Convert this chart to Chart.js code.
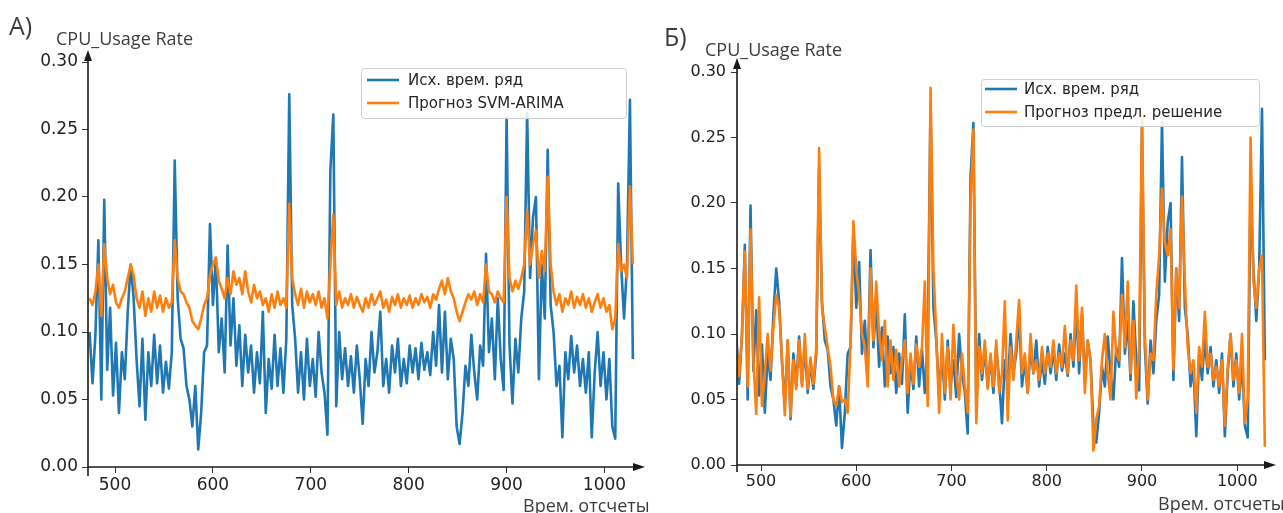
<!DOCTYPE html>
<html>
<head>
<meta charset="utf-8">
<script src="https://cdn.jsdelivr.net/npm/chart.js@4.4.1/dist/chart.umd.min.js"></script>
<style>
  body { margin: 0; background: #fff; }
  #wrap { position: relative; width: 1283px; height: 513px; overflow: hidden; }
  canvas { position: absolute; top: 0; }
  #chartA { left: 0; }
  #chartB { left: 650px; }
</style>
</head>
<body>
<div id="wrap">
  <canvas id="chartA" width="650" height="513"></canvas>
  <canvas id="chartB" width="633" height="513"></canvas>
</div>
<script>
// sample times: every 3rd sample starting at 474
const tStart = 474;
const tStep = 3;

// original series (blue), same in both panels
const actual = [
  0.100, 0.062, 0.098, 0.168, 0.050, 0.198, 0.072, 0.118, 0.053, 0.092,
  0.040, 0.085, 0.065, 0.115, 0.150, 0.125, 0.080, 0.045, 0.095, 0.035,
  0.085, 0.060, 0.098, 0.062, 0.090, 0.055, 0.078, 0.058, 0.085, 0.227,
  0.125, 0.095, 0.088, 0.060, 0.050, 0.030, 0.060, 0.013, 0.040, 0.085,
  0.090, 0.180, 0.120, 0.155, 0.085, 0.110, 0.070, 0.164, 0.090, 0.125,
  0.075, 0.105, 0.060, 0.098, 0.070, 0.090, 0.055, 0.085, 0.062, 0.115,
  0.040, 0.080, 0.058, 0.098, 0.060, 0.088, 0.055, 0.095, 0.276, 0.120,
  0.095, 0.055, 0.085, 0.050, 0.095, 0.060, 0.080, 0.052, 0.100, 0.070,
  0.055, 0.024, 0.220, 0.261, 0.045, 0.100, 0.065, 0.088, 0.060, 0.082,
  0.055, 0.090, 0.065, 0.032, 0.080, 0.060, 0.100, 0.070, 0.085, 0.115,
  0.060, 0.080, 0.055, 0.090, 0.070, 0.095, 0.060, 0.080, 0.062, 0.090,
  0.070, 0.088, 0.065, 0.092, 0.072, 0.085, 0.068, 0.100, 0.075, 0.120,
  0.070, 0.115, 0.065, 0.095, 0.080, 0.030, 0.017, 0.040, 0.075, 0.060,
  0.098, 0.070, 0.050, 0.090, 0.075, 0.158, 0.085, 0.110, 0.065, 0.125,
  0.080, 0.057, 0.259, 0.090, 0.047, 0.095, 0.070, 0.110, 0.130, 0.262,
  0.140, 0.185, 0.200, 0.065, 0.150, 0.110, 0.235, 0.120, 0.100, 0.060,
  0.075, 0.022, 0.085, 0.065, 0.097, 0.070, 0.090, 0.060, 0.080, 0.055,
  0.085, 0.022, 0.070, 0.100, 0.060, 0.085, 0.050, 0.080, 0.030, 0.021,
  0.210, 0.150, 0.110, 0.150, 0.272, 0.080
];

// SVM-ARIMA forecast (orange, panel A)
const svmArima = [
  0.125, 0.120, 0.130, 0.150, 0.112, 0.165, 0.140, 0.128, 0.135, 0.122,
  0.118, 0.125, 0.130, 0.140, 0.150, 0.142, 0.125, 0.118, 0.130, 0.112,
  0.125, 0.115, 0.130, 0.118, 0.127, 0.115, 0.125, 0.118, 0.122, 0.168,
  0.140, 0.130, 0.128, 0.122, 0.118, 0.108, 0.105, 0.102, 0.110, 0.120,
  0.125, 0.142, 0.150, 0.155, 0.138, 0.132, 0.125, 0.140, 0.128, 0.145,
  0.135, 0.140, 0.128, 0.145, 0.130, 0.122, 0.135, 0.125, 0.130, 0.120,
  0.125, 0.115, 0.128, 0.118, 0.130, 0.120, 0.125, 0.118, 0.195, 0.140,
  0.128, 0.120, 0.132, 0.118, 0.130, 0.122, 0.128, 0.120, 0.130, 0.118,
  0.125, 0.110, 0.150, 0.187, 0.120, 0.130, 0.118, 0.125, 0.120, 0.128,
  0.118, 0.126, 0.120, 0.115, 0.125, 0.118, 0.128, 0.120, 0.125, 0.130,
  0.118, 0.124, 0.115, 0.126, 0.120, 0.128, 0.118, 0.125, 0.120, 0.127,
  0.118, 0.125, 0.120, 0.128, 0.122, 0.126, 0.118, 0.128, 0.124, 0.132,
  0.138, 0.128, 0.140, 0.130, 0.125, 0.115, 0.108, 0.115, 0.122, 0.128,
  0.124, 0.130, 0.120, 0.128, 0.122, 0.150, 0.130, 0.128, 0.122, 0.130,
  0.125, 0.122, 0.200, 0.140, 0.130, 0.138, 0.132, 0.140, 0.150, 0.190,
  0.150, 0.165, 0.175, 0.140, 0.160, 0.145, 0.215, 0.150, 0.130, 0.120,
  0.128, 0.115, 0.125, 0.120, 0.130, 0.118, 0.126, 0.120, 0.128, 0.118,
  0.125, 0.115, 0.122, 0.128, 0.118, 0.125, 0.115, 0.120, 0.102, 0.110,
  0.165, 0.145, 0.150, 0.140, 0.208, 0.150
];

// proposed solution forecast (orange, panel Б)
const proposed = [
  0.092, 0.068, 0.100, 0.163, 0.060, 0.180, 0.080, 0.039, 0.128, 0.045,
  0.070, 0.100, 0.072, 0.105, 0.130, 0.120, 0.080, 0.038, 0.095, 0.037,
  0.080, 0.058, 0.095, 0.060, 0.100, 0.058, 0.082, 0.062, 0.090, 0.242,
  0.120, 0.105, 0.090, 0.075, 0.050, 0.045, 0.060, 0.048, 0.050, 0.040,
  0.092, 0.186, 0.150, 0.130, 0.100, 0.090, 0.060, 0.150, 0.095, 0.140,
  0.100, 0.080, 0.110, 0.060, 0.095, 0.065, 0.088, 0.060, 0.080, 0.095,
  0.055, 0.085, 0.062, 0.092, 0.075, 0.090, 0.140, 0.045, 0.288, 0.150,
  0.100, 0.040, 0.100, 0.055, 0.090, 0.050, 0.107, 0.070, 0.050, 0.085,
  0.060, 0.040, 0.200, 0.256, 0.032, 0.090, 0.070, 0.095, 0.058, 0.085,
  0.060, 0.095, 0.055, 0.070, 0.125, 0.034, 0.090, 0.065, 0.095, 0.126,
  0.070, 0.085, 0.055, 0.100, 0.070, 0.080, 0.065, 0.090, 0.070, 0.085,
  0.075, 0.095, 0.070, 0.085, 0.075, 0.106, 0.070, 0.095, 0.080, 0.137,
  0.080, 0.120, 0.055, 0.095, 0.080, 0.011, 0.035, 0.045, 0.080, 0.100,
  0.070, 0.050, 0.117, 0.085, 0.080, 0.130, 0.090, 0.140, 0.070, 0.110,
  0.051, 0.090, 0.265, 0.100, 0.050, 0.085, 0.080, 0.130, 0.160, 0.211,
  0.170, 0.160, 0.180, 0.073, 0.150, 0.120, 0.205, 0.140, 0.090, 0.070,
  0.080, 0.040, 0.090, 0.075, 0.117, 0.075, 0.085, 0.065, 0.075, 0.060,
  0.080, 0.030, 0.075, 0.100, 0.065, 0.080, 0.055, 0.100, 0.032, 0.050,
  0.250, 0.140, 0.120, 0.150, 0.160, 0.014
];

const xTicks = [500, 600, 700, 800, 900, 1000];
const yTicks = [0, 0.05, 0.10, 0.15, 0.20, 0.25, 0.30];
const yTitle = 'CPU_Usage Rate';
const xTitle = 'Врем. отсчеты';

const times = actual.map((_, i) => tStart + i * tStep);
const points = vals => vals.map((v, i) => ({ x: times[i], y: v }));

Chart.defaults.font.family = "'DejaVu Sans', sans-serif";

// axes with arrows, panel letter, axis titles and the legend box
const decor = {
  id: 'decor',
  afterDraw(chart, args, o) {
    const { ctx, chartArea: a } = chart;
    ctx.save();
    ctx.strokeStyle = '#1a1a1a';
    ctx.fillStyle = '#1a1a1a';
    ctx.lineWidth = 1.6;
    ctx.beginPath();
    ctx.moveTo(a.left, a.bottom + o.yBelow);
    ctx.lineTo(a.left, a.top - o.arrowUp + 8);
    ctx.moveTo(a.left, a.bottom);
    ctx.lineTo(a.right - 8, a.bottom);
    ctx.stroke();

    ctx.beginPath();
    ctx.moveTo(a.left, a.top - o.arrowUp);
    ctx.lineTo(a.left - 4, a.top - o.arrowUp + 11);
    ctx.lineTo(a.left + 4, a.top - o.arrowUp + 11);
    ctx.closePath();
    ctx.fill();
    ctx.beginPath();
    ctx.moveTo(a.right, a.bottom);
    ctx.lineTo(a.right - 12, a.bottom - 4);
    ctx.lineTo(a.right - 12, a.bottom + 4);
    ctx.closePath();
    ctx.fill();

    ctx.fillStyle = '#3c3c3c';
    ctx.textAlign = 'left';
    ctx.textBaseline = 'alphabetic';
    ctx.font = o.letterSize + "px 'Open Sans'";
    ctx.fillText(o.letter, o.letterX, o.letterY);
    ctx.font = o.titleSize + "px 'Open Sans'";
    ctx.fillText(yTitle, o.titleX, o.titleY);
    ctx.fillText(xTitle, o.xTitleX, o.xTitleY);

    // legend
    const L = o.legend;
    ctx.beginPath();
    ctx.roundRect(L.x + 0.5, L.y + 0.5, L.w, L.h, 3);
    ctx.fillStyle = 'rgba(255,255,255,0.85)';
    ctx.fill();
    ctx.strokeStyle = '#cfcfcf';
    ctx.lineWidth = 1;
    ctx.stroke();
    ctx.font = L.size + "px 'DejaVu Sans'";
    ctx.textBaseline = 'middle';
    chart.data.datasets.forEach((ds, i) => {
      const y = L.rows[i];
      ctx.strokeStyle = ds.borderColor;
      ctx.lineWidth = 2.6;
      ctx.beginPath();
      ctx.moveTo(L.lineX, y);
      ctx.lineTo(L.lineX + L.lineW, y);
      ctx.stroke();
      ctx.fillStyle = '#262626';
      ctx.fillText(ds.label, L.textX, y + 1);
    });
    ctx.restore();
  }
};

function build(id, forecastLabel, forecast, p) {
  return new Chart(document.getElementById(id), {
    type: 'line',
    data: {
      datasets: [
        { label: 'Исх. врем. ряд', data: points(actual), borderColor: '#1f77b4', order: 2 },
        { label: forecastLabel, data: points(forecast), borderColor: '#ff7f0e', order: 1 }
      ]
    },
    options: {
      responsive: false,
      animation: false,
      elements: {
        point: { radius: 0 },
        line: { borderWidth: 2.6, tension: 0, fill: false, borderJoinStyle: 'round' }
      },
      layout: { padding: { left: 0, top: p.top, right: p.right, bottom: 0 } },
      plugins: { legend: { display: false }, tooltip: { enabled: false }, decor: p },
      scales: {
        x: {
          type: 'linear',
          min: p.xMin,
          max: p.xMax,
          afterFit: s => { s.height = p.xAxisH; },
          afterBuildTicks: s => { s.ticks = xTicks.map(v => ({ value: v })); },
          grid: { drawOnChartArea: false, tickLength: 6, tickColor: '#333' },
          border: { display: false },
          ticks: {
            autoSkip: false, maxRotation: 0, padding: p.xPad, color: '#222',
            font: { size: p.tickSize }, callback: v => String(v)
          }
        },
        y: {
          type: 'linear',
          min: 0,
          max: 0.3,
          afterFit: s => { s.width = p.yAxisW; },
          afterBuildTicks: s => { s.ticks = yTicks.map(v => ({ value: v })); },
          grid: { drawOnChartArea: false, tickLength: 6, tickColor: '#333' },
          border: { display: false },
          ticks: {
            padding: p.yPad, color: '#222',
            font: { size: p.tickSize }, callback: v => v.toFixed(2)
          }
        }
      }
    },
    plugins: [decor]
  });
}

build('chartA', 'Прогноз SVM-ARIMA', svmArima, {
  xMin: 472.4, xMax: 1041.4, top: 62, right: 5, xAxisH: 46, yAxisW: 88,
  xPad: 2, yPad: 4, tickSize: 17, arrowUp: 12, yBelow: 9,
  letter: 'А)', letterSize: 25, letterX: 9, letterY: 35,
  titleSize: 18, titleX: 56, titleY: 45, xTitleX: 523, xTitleY: 512,
  legend: { x: 361, y: 68, w: 265, h: 50, lineX: 367, lineW: 32, rows: [80, 103], textX: 408, size: 15 }
});

build('chartB', 'Прогноз предл. решение', proposed, {
  xMin: 474.8, xMax: 1040.7, top: 72, right: 7, xAxisH: 48, yAxisW: 87,
  xPad: 1, yPad: 5, tickSize: 16, arrowUp: 14, yBelow: 7,
  letter: 'Б)', letterSize: 25, letterX: 14, letterY: 46,
  titleSize: 18, titleX: 55, titleY: 56, xTitleX: 508, xTitleY: 510,
  legend: { x: 331, y: 79, w: 278, h: 47, lineX: 335, lineW: 32, rows: [89, 112], textX: 374, size: 15 }
});
</script>
</body>
</html>
